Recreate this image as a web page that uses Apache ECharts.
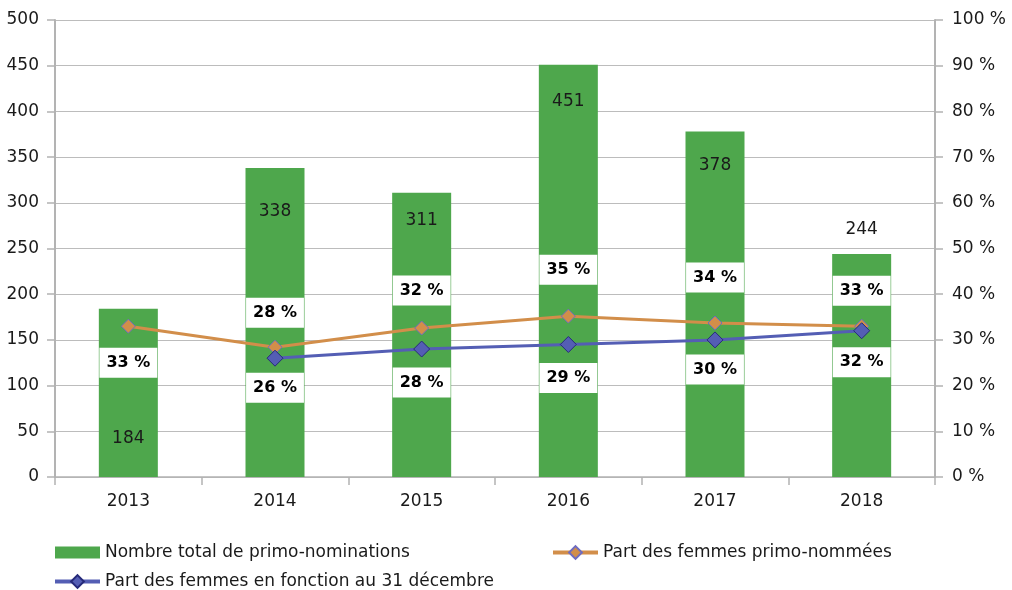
<!DOCTYPE html>
<html><head><meta charset="utf-8">
<script src="https://cdn.jsdelivr.net/npm/echarts@6/dist/echarts.min.js"></script>
<style>html,body{margin:0;padding:0;background:#fff}#c{width:1012px;height:590px}</style>
</head><body><div id="c"></div>
<script>
const years = ['2013','2014','2015','2016','2017','2018'];
const nominations = [184, 338, 311, 451, 378, 244];
const partPrimo = [33, 28.4, 32.6, 35.2, 33.7, 33];
const partPrimoLabels = ['33 %','28 %','32 %','35 %','34 %','33 %'];
const partFonction = [null, 26, 28, 29, 30, 32];
const partFonctionLabels = ['', '26 %','28 %','29 %','30 %','32 %'];
const leftTicks = [0,50,100,150,200,250,300,350,400,450,500];

// label layout (styling only)
const barLabelLayout = [
  {position:'insideBottom', distance:30},
  {position:'insideTop', distance:35},
  {position:'insideTop', distance:19},
  {position:'insideTop', distance:28},
  {position:'insideTop', distance:26},
  {position:'top', distance:16}
];
const primoLabelLayout = [
  {position:'bottom', distance:14},
  {position:'top', distance:12},
  {position:'top', distance:15},
  {position:'top', distance:24},
  {position:'top', distance:23},
  {position:'top', distance:13}
];
const fonctionLabelLayout = [
  null,
  {position:'bottom', distance:6},
  {position:'bottom', distance:10},
  {position:'bottom', distance:10},
  {position:'bottom', distance:6},
  {position:'bottom', distance:8}
];

const FONT = 'DejaVu Sans';
const TXT = '#1a1a1a';
const ORANGE = '#d28e4a', BLUE = '#545eb4';
const boxLabel = {
  show:true, backgroundColor:'#fff', color:'#000', fontWeight:'bold', fontSize:16,
  fontFamily:FONT, padding:[6,7,6,7], lineHeight:18
};
const legendText = {fontSize:17, color:TXT, fontFamily:FONT};

const chart = echarts.init(document.getElementById('c'));
chart.setOption({
  animation:false,
  textStyle:{fontFamily:FONT},
  grid:{left:55, right:77, top:20, bottom:113, containLabel:false},
  legend:[
    {left:50, top:539, itemWidth:45, itemHeight:12, textStyle:legendText,
     data:[{name:'Nombre total de primo-nominations', icon:'rect'}]},
    {left:48, top:568, itemWidth:45, itemHeight:16, textStyle:legendText,
     lineStyle:{width:4, color:BLUE},
     data:['Part des femmes en fonction au 31 décembre']},
    {left:546, top:539, itemWidth:45, itemHeight:16, textStyle:legendText,
     lineStyle:{width:4, color:ORANGE},
     data:['Part des femmes primo-nommées']}
  ],
  xAxis:{
    type:'category', data:years, boundaryGap:true,
    axisLine:{lineStyle:{color:'#b3b3b3', width:1.5}},
    axisTick:{show:true, length:8, lineStyle:{color:'#b3b3b3', width:1.5}},
    axisLabel:{fontSize:17, color:TXT, margin:16, fontFamily:FONT}
  },
  yAxis:[
    {type:'value', min:leftTicks[0], max:leftTicks[leftTicks.length-1], interval:50,
     axisLine:{show:true, lineStyle:{color:'#b3b3b3', width:2}},
     axisTick:{show:true, length:8, lineStyle:{color:'#b3b3b3', width:1.5}},
     splitLine:{lineStyle:{color:'#bcbcbc', width:1.2}},
     axisLabel:{fontSize:17, color:TXT, margin:16, fontFamily:FONT}},
    {type:'value', min:0, max:100, interval:10, position:'right',
     axisLine:{show:true, lineStyle:{color:'#b3b3b3', width:2}},
     axisTick:{show:true, length:8, lineStyle:{color:'#b3b3b3', width:1.5}},
     splitLine:{show:false},
     axisLabel:{fontSize:17, color:TXT, margin:17, formatter:'{value} %', fontFamily:FONT}}
  ],
  series:[
    {name:'Nombre total de primo-nominations', type:'bar', yAxisIndex:0, barWidth:59,
     itemStyle:{color:'#4ea74c'},
     data:nominations.map((v,i)=>({value:v, label:{show:true, fontSize:17, color:TXT, fontFamily:FONT, ...barLabelLayout[i]}}))},
    {name:'Part des femmes primo-nommées', type:'line', yAxisIndex:1, z:3,
     symbol:'diamond', symbolSize:14,
     lineStyle:{color:ORANGE, width:3},
     itemStyle:{color:ORANGE, borderColor:'#6f6cc0', borderWidth:1},
     data:partPrimo.map((v,i)=>({value:v, label:{...boxLabel, formatter:partPrimoLabels[i], ...primoLabelLayout[i]}}))},
    {name:'Part des femmes en fonction au 31 décembre', type:'line', yAxisIndex:1, z:4,
     symbol:'diamond', symbolSize:16,
     lineStyle:{color:BLUE, width:3},
     itemStyle:{color:BLUE, borderColor:'#262a7a', borderWidth:1},
     data:partFonction.map((v,i)=>(v===null?{value:null}:{value:v, label:{...boxLabel, formatter:partFonctionLabels[i], ...fonctionLabelLayout[i]}}))}
  ]
});
</script></body></html>
